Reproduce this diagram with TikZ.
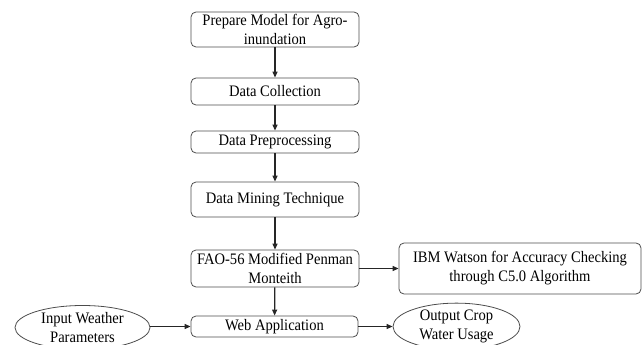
\documentclass[tikz,border=0pt]{standalone}
\usepackage{fontspec}
\setmainfont{Liberation Serif}[FakeStretch=0.91]
\usetikzlibrary{shapes.geometric,arrows.meta}
\begin{document}
\begin{tikzpicture}[x=1pt,y=-1pt,
  every node/.style={font=\fontsize{16}{19}\selectfont, inner sep=0pt, align=center},
  stepbox/.style={draw=black!70, line width=0.8pt, rounded corners=5pt},
  oval/.style={ellipse, draw=black!70, line width=0.8pt},
  arr/.style={-{Triangle[length=6pt,width=5pt]}, line width=1.2pt, black!85}]
\useasboundingbox (0,0) rectangle (643,345);
\clip (0,0) rectangle (643,345);

% main processing chain
\node[stepbox, minimum width=168pt, minimum height=35pt] (prep) at (275,29.5) {Prepare Model for Agro-\\inundation};
\node[stepbox, minimum width=168pt, minimum height=27pt] (coll) at (275,91.5) {Data Collection};
\node[stepbox, minimum width=168pt, minimum height=22pt] (pre) at (275,142) {Data Preprocessing};
\node[stepbox, minimum width=168pt, minimum height=35pt] (mine) at (275,199.5) {Data Mining Technique};
\node[stepbox, minimum width=168pt, minimum height=37pt] (fao) at (275,268.5) {FAO-56 Modified Penman\\Monteith};
\node[stepbox, minimum width=242pt, minimum height=51pt] (ibm) at (520,268.5) {IBM Watson for Accuracy Checking\\through C5.0 Algorithm};
\node[stepbox, minimum width=167pt, minimum height=21pt] (web) at (274.5,326.5) {Web Application};

% input and output of the web application
\node[oval, minimum width=135pt, minimum height=44pt] (inp) at (82.5,327.5) {Input Weather\\Parameters};
\node[oval, minimum width=127pt, minimum height=44pt] (outp) at (456.5,326.5) {Output Crop\\Water Usage};

% connectors
\draw[arr] (prep) -- (coll);
\draw[arr] (coll) -- (pre);
\draw[arr] (pre) -- (mine);
\draw[arr] (mine) -- (fao);
\draw[arr] (fao) -- (web);
\draw[arr] (fao) -- (ibm);
\draw[arr] (inp.east |- web.west) -- (web.west);
\draw[arr] (web.east) -- (web.east -| outp.west);
\end{tikzpicture}
\end{document}
